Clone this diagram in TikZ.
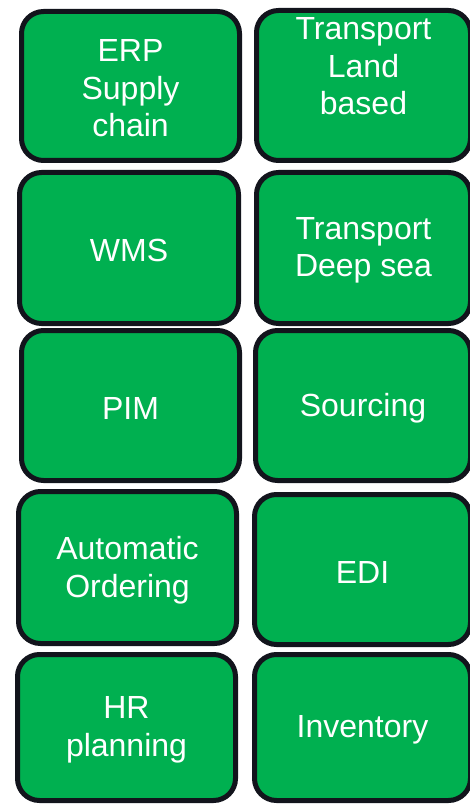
\documentclass[tikz,border=0pt]{standalone}
\usepackage{fontspec}
\setmainfont{Liberation Sans}
\definecolor{tilegreen}{HTML}{00B050}
\definecolor{tileedge}{HTML}{12141C}
\begin{document}
\begin{tikzpicture}[x=1pt,y=-1pt,
  tile/.style={draw=tileedge, fill=tilegreen, line width=5pt,
    rounded corners=22pt, inner sep=0pt, outer sep=0pt},
  label/.style={text=white, align=center, inner sep=0pt, yshift=-2.5pt,
    font=\fontsize{32}{37.5}\selectfont}]
\useasboundingbox (0,0) rectangle (470,805);
\clip (0,0) rectangle (470,805);
% left column (sizes are outer extents minus the border width)
\node[tile, minimum width=218pt, minimum height=149pt] (erp) at (130.5,86) {};
\node[tile, minimum width=219pt, minimum height=151pt] (wms) at (129,248) {};
\node[tile, minimum width=218pt, minimum height=150pt] (pim) at (130.5,405.5) {};
\node[tile, minimum width=218pt, minimum height=152pt] (auto) at (127.5,567.5) {};
\node[tile, minimum width=218pt, minimum height=146pt] (hr) at (126.5,727.5) {};
% right column, running past the right edge
\node[tile, minimum width=214pt, minimum height=150pt] (land) at (363.5,85.5) {};
\node[tile, minimum width=214pt, minimum height=151pt] (sea) at (363.5,248) {};
\node[tile, minimum width=215pt, minimum height=150pt] (src) at (363,405.5) {};
\node[tile, minimum width=216pt, minimum height=150pt] (edi) at (362.5,569.5) {};
\node[tile, minimum width=216pt, minimum height=146pt] (inv) at (362.5,727.5) {};
% captions
\node[label] (erpt) at (erp.center) {ERP\\Supply\\chain};
\node[label] (wmst) at (wms.center) {WMS};
\node[label] (pimt) at (pim.center) {PIM};
\node[label] (autot) at (auto.center) {Automatic\\Ordering};
\node[label] (hrt) at (hr.center) {HR\\planning};
\node[label] (landt) at ([yshift=21.5pt]land.center) {Transport\\Land\\based};
\node[label] (seat) at (sea.center) {Transport\\Deep sea};
\node[label] (srct) at (src.center) {Sourcing};
\node[label] (edit) at (edi.center) {EDI};
\node[label] (invt) at (inv.center) {Inventory};
\end{tikzpicture}
\end{document}
